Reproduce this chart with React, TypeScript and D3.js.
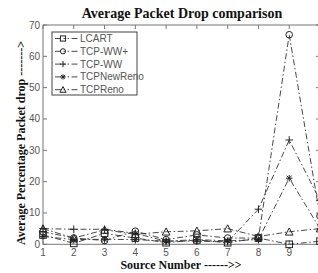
import React, { useRef, useEffect } from "react";
import * as d3 from "d3";

const sources = [1, 2, 3, 4, 5, 6, 7, 8, 9, 10];
const xTickLabels = [1, 2, 3, 4, 5, 6, 7, 8, 9];
const lcart = [3, 0.3, 3.5, 2, 0.5, 1.4, 0.5, 2, 0, 1];
const tcpWwPlus = [4, 2, 1.2, 4.2, 1.5, 3, 2, 2, 66.9, 9];
const tcpWw = [5, 4.8, 4.8, 3.5, 1, 1, 0.8, 11.2, 33.3, 14];
const tcpNewReno = [2.5, 1.5, 1.6, 1.5, 1, 1.5, 1.1, 1.5, 21.1, 5];
const tcpReno = [5, 2, 4.6, 3.2, 4, 4.3, 5, 2.5, 4, 5];
const yTicks = [0, 10, 20, 30, 40, 50, 60, 70];

const seriesList = [
  { name: "LCART", values: lcart, marker: "square" },
  { name: "TCP-WW+", values: tcpWwPlus, marker: "circle" },
  { name: "TCP-WW", values: tcpWw, marker: "plus" },
  { name: "TCPNewReno", values: tcpNewReno, marker: "star" },
  { name: "TCPReno", values: tcpReno, marker: "triangle" },
];

const App = () => {
  const ref = useRef<SVGSVGElement>(null);

  useEffect(() => {
    document.body.style.margin = "0";
    const width = 318;
    const height = 273;
    const left = 43;
    const right = 320;
    const top = 25;
    const bottom = 244.3;

    const svg = d3.select(ref.current);
    svg.selectAll("*").remove();
    svg.append("rect").attr("width", width).attr("height", height).attr("fill", "#fff");

    const x = d3.scaleLinear().domain([1, 10]).range([left, right]);
    const y = d3.scaleLinear().domain([0, 70]).range([bottom, top]);

    const axisColor = "#777";
    const textColor = "#555";

    // box (right side falls outside the picture)
    svg
      .append("rect")
      .attr("x", left)
      .attr("y", top)
      .attr("width", right - left)
      .attr("height", bottom - top)
      .attr("fill", "none")
      .attr("stroke", axisColor)
      .attr("stroke-width", 1);

    // ticks
    const tk = 4;
    sources.forEach((s) => {
      svg.append("line").attr("x1", x(s)).attr("x2", x(s)).attr("y1", bottom).attr("y2", bottom - tk).attr("stroke", axisColor);
      svg.append("line").attr("x1", x(s)).attr("x2", x(s)).attr("y1", top).attr("y2", top + tk).attr("stroke", axisColor);
    });
    xTickLabels.forEach((s) => {
      svg
        .append("text")
        .attr("x", x(s))
        .attr("y", bottom + 12)
        .attr("text-anchor", "middle")
        .attr("font-family", "Liberation Sans, Arial, sans-serif")
        .attr("font-size", 10)
        .attr("fill", textColor)
        .text(s);
    });
    yTicks.forEach((t) => {
      svg.append("line").attr("x1", left).attr("x2", left + tk).attr("y1", y(t)).attr("y2", y(t)).attr("stroke", axisColor);
      svg.append("line").attr("x1", right).attr("x2", right - tk).attr("y1", y(t)).attr("y2", y(t)).attr("stroke", axisColor);
      svg
        .append("text")
        .attr("x", left - 3)
        .attr("y", y(t) + 3.5)
        .attr("text-anchor", "end")
        .attr("font-family", "Liberation Sans, Arial, sans-serif")
        .attr("font-size", 10)
        .attr("fill", textColor)
        .text(t);
    });

    const drawMarker = (g: any, type: string, cx: number, cy: number, s: number) => {
      const apply = (sel: any) => sel.attr("stroke", "#222").attr("fill", "none").attr("stroke-width", 1);
      if (type === "square") {
        apply(g.append("rect").attr("x", cx - s).attr("y", cy - s).attr("width", 2 * s).attr("height", 2 * s));
      } else if (type === "circle") {
        apply(g.append("circle").attr("cx", cx).attr("cy", cy).attr("r", s));
      } else if (type === "plus") {
        apply(g.append("path").attr("d", `M${cx - s - 0.5},${cy}H${cx + s + 0.5}M${cx},${cy - s - 0.5}V${cy + s + 0.5}`));
      } else if (type === "star") {
        const d = s * 0.75;
        apply(
          g
            .append("path")
            .attr(
              "d",
              `M${cx - s},${cy}H${cx + s}M${cx},${cy - s}V${cy + s}M${cx - d},${cy - d}L${cx + d},${cy + d}M${cx - d},${cy + d}L${cx + d},${cy - d}`
            )
        );
      } else if (type === "triangle") {
        apply(g.append("path").attr("d", `M${cx},${cy - s - 0.5}L${cx + s + 0.5},${cy + s}L${cx - s - 0.5},${cy + s}Z`));
      }
    };

    const line = d3
      .line<number>()
      .x((_, i) => x(sources[i]))
      .y((d) => y(d));

    const plot = svg.append("g");
    seriesList.forEach((ser) => {
      plot
        .append("path")
        .attr("d", line(ser.values))
        .attr("fill", "none")
        .attr("stroke", "#333")
        .attr("stroke-width", 0.9)
        .attr("stroke-dasharray", "6,2.5,1.5,2.5");
    });
    seriesList.forEach((ser) => {
      ser.values.forEach((v, i) => drawMarker(plot, ser.marker, x(sources[i]), y(v), 3.3));
    });

    // legend
    const lg = svg.append("g");
    lg.append("rect")
      .attr("x", 52)
      .attr("y", 32)
      .attr("width", 85)
      .attr("height", 63)
      .attr("fill", "#fff")
      .attr("stroke", "#444")
      .attr("stroke-width", 1);
    seriesList.forEach((ser, i) => {
      const ly = 38.5 + i * 12.8;
      lg.append("line")
        .attr("x1", 55)
        .attr("x2", 78)
        .attr("y1", ly)
        .attr("y2", ly)
        .attr("stroke", "#333")
        .attr("stroke-width", 0.9)
        .attr("stroke-dasharray", "6,2.5,1.5,2.5,1.5,2.5");
      drawMarker(lg, ser.marker, 63, ly, 2.6);
      lg.append("text")
        .attr("x", 80)
        .attr("y", ly + 3.5)
        .attr("font-family", "Liberation Sans, Arial, sans-serif")
        .attr("font-size", 10)
        .attr("fill", textColor)
        .text(ser.name);
    });

    // titles
    svg
      .append("text")
      .attr("x", 182)
      .attr("y", 18)
      .attr("text-anchor", "middle")
      .attr("font-family", "Liberation Serif, Times New Roman, serif")
      .attr("font-weight", "bold")
      .attr("font-size", 14)
      .attr("fill", "#111")
      .text("Average Packet Drop comparison");
    svg
      .append("text")
      .attr("x", 181)
      .attr("y", 269)
      .attr("text-anchor", "middle")
      .attr("font-family", "Liberation Serif, Times New Roman, serif")
      .attr("font-weight", "bold")
      .attr("font-size", 12)
      .attr("fill", "#111")
      .text("Source Number ------>>");
    svg
      .append("text")
      .attr("transform", `translate(25,143) rotate(-90)`)
      .attr("text-anchor", "middle")
      .attr("font-family", "Liberation Serif, Times New Roman, serif")
      .attr("font-weight", "bold")
      .attr("font-size", 12)
      .attr("fill", "#111")
      .text("Average Percentage Packet drop ------->");
  }, []);

  return <svg ref={ref} width={318} height={273} style={{ display: "block" }}></svg>;
};

export default App;
